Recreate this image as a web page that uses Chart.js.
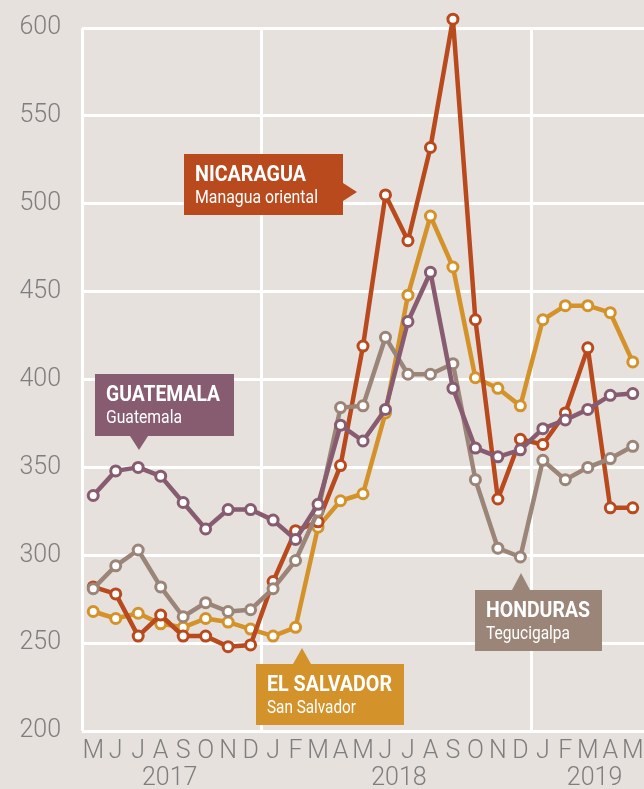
<!DOCTYPE html>
<html>
<head>
<meta charset="utf-8">
<script src="https://cdn.jsdelivr.net/npm/chart.js@4.4.1/dist/chart.umd.min.js"></script>
<style>
  html, body { margin: 0; padding: 0; background: #e6e1dd; }
  #wrap { width: 644px; height: 789px; position: relative; }
</style>
</head>
<body>
<div id="wrap"><canvas id="chart"></canvas></div>
<script>
const months = ['M','J','J','A','S','O','N','D','J','F','M','A','M','J','J','A','S','O','N','D','J','F','M','A','M'];
const years = ['2017', '2018', '2019'];
const yearAt = [3.4, 13.6, 22.3];      // category position of each year label
const yearStart = [0, 8, 20];          // white vertical line before these months

const nicaragua  = [282, 278, 254, 266, 254, 254, 248, 249, 285, 314, 319, 351, 419, 505, 479, 532, 605, 434, 332, 366, 363, 381, 418, 327, 327];
const guatemala  = [334, 348, 350, 345, 330, 315, 326, 326, 320, 309, 329, 374, 365, 383, 433, 461, 395, 361, 356, 360, 372, 377, 383, 391, 392];
const elSalvador = [268, 264, 267, 261, 259, 264, 262, 258, 254, 259, 316, 331, 335, 381, 448, 493, 464, 401, 395, 385, 434, 442, 442, 438, 410];
const honduras   = [281, 294, 303, 282, 265, 273, 268, 269, 281, 297, 325, 384, 385, 424, 403, 403, 409, 343, 304, 299, 354, 343, 350, 355, 362];

const RED = '#b84a1e', PURPLE = '#875c70', GOLD = '#d4922a', TAUPE = '#9b8578';
const tickFont = { family: 'Roboto', weight: 300, size: 25 };
const tickColor = '#7e7e7e';

function series(label, data, color) {
    return {
        label: label,
        data: data,
        borderColor: color,
        borderWidth: 4.5,
        borderJoinStyle: 'round',
        pointRadius: 5,
        pointBorderWidth: 3,
        pointBackgroundColor: '#fff',
        pointBorderColor: color,
        tension: 0,
        clip: false
    };
}

// callout boxes (tw / sw = width the title / subtitle text is squeezed to)
const callouts = [
    { x: 184, y: 154, w: 159, h: 61, color: RED, title: 'NICARAGUA', tw: 111, sub: 'Managua oriental', sw: 123, arrow: 'right', ax: 357, ay: 192 },
    { x: 95, y: 374, w: 139, h: 62, color: PURPLE, title: 'GUATEMALA', tw: 114, sub: 'Guatemala', sw: 76, arrow: 'down', ax: 139, ay: 450 },
    { x: 256, y: 664, w: 148, h: 61, color: GOLD, title: 'EL SALVADOR', tw: 125, sub: 'San Salvador', sw: 89, arrow: 'up', ax: 302, ay: 648 },
    { x: 475, y: 590, w: 127, h: 61, color: TAUPE, title: 'HONDURAS', tw: 104, sub: 'Tegucigalpa', sw: 84, arrow: 'up', ax: 521, ay: 573 }
];

function squeezedText(ctx, text, x, y, width) {
    const w = ctx.measureText(text).width;
    ctx.save();
    ctx.translate(x, y);
    ctx.scale(width / w, 1);
    ctx.fillText(text, 0, 0);
    ctx.restore();
}

const calloutPlugin = {
    id: 'callouts',
    afterDatasetsDraw(chart) {
        const ctx = chart.ctx;
        // points above the 600 line are skipped by the library, draw them here
        const full = { left: 0, top: 0, right: chart.width, bottom: chart.height };
        chart.data.datasets.forEach((ds, i) => {
            chart.getDatasetMeta(i).data.forEach(pt => {
                if (pt.y < chart.chartArea.top) pt.draw(ctx, full);
            });
        });

        ctx.save();
        callouts.forEach(c => {
            ctx.fillStyle = c.color;
            ctx.fillRect(c.x, c.y, c.w, c.h);
            ctx.beginPath();
            if (c.arrow === 'right') {
                ctx.moveTo(c.x + c.w, c.ay - 9);
                ctx.lineTo(c.ax, c.ay);
                ctx.lineTo(c.x + c.w, c.ay + 9);
            } else if (c.arrow === 'down') {
                ctx.moveTo(c.ax - 9, c.y + c.h);
                ctx.lineTo(c.ax, c.ay);
                ctx.lineTo(c.ax + 9, c.y + c.h);
            } else {
                ctx.moveTo(c.ax - 9, c.y);
                ctx.lineTo(c.ax, c.ay);
                ctx.lineTo(c.ax + 9, c.y);
            }
            ctx.closePath();
            ctx.fill();
            ctx.fillStyle = '#fff';
            ctx.textAlign = 'left';
            ctx.textBaseline = 'alphabetic';
            ctx.font = 'bold 22px Roboto, sans-serif';
            squeezedText(ctx, c.title, c.x + 11, c.y + 27, c.tw);
            ctx.font = '19px Roboto, sans-serif';
            squeezedText(ctx, c.sub, c.x + 11, c.y + 49, c.sw);
        });
        ctx.restore();
    },
    afterDraw(chart) {
        const ctx = chart.ctx;
        const xs = chart.scales.x;
        ctx.save();
        ctx.fillStyle = tickColor;
        ctx.font = '300 25px Roboto';
        ctx.textAlign = 'center';
        ctx.textBaseline = 'middle';
        years.forEach((y, i) => {
            ctx.fillText(y, xs.getPixelForValue(yearAt[i]), 779);
        });
        ctx.restore();
    }
};

new Chart(document.getElementById('chart'), {
    type: 'line',
    data: {
        labels: months,
        datasets: [
            series('Guatemala', guatemala, PURPLE),
            series('Honduras', honduras, TAUPE),
            series('Nicaragua', nicaragua, RED),
            series('El Salvador', elSalvador, GOLD)
        ]
    },
    options: {
        responsive: true,
        maintainAspectRatio: false,
        animation: false,
        layout: { autoPadding: false, padding: { top: 28, right: 0, bottom: 0, left: 0 } },
        plugins: { legend: { display: false }, tooltip: { enabled: false } },
        scales: {
            x: {
                offset: true,
                grid: {
                    offset: true,
                    drawTicks: false,
                    lineWidth: 3,
                    color: ctx => yearStart.includes(ctx.index) ? '#ffffff' : 'rgba(0,0,0,0)'
                },
                border: { display: false },
                ticks: { color: tickColor, font: tickFont, padding: 6, maxRotation: 0, autoSkip: false },
                afterFit: s => { s.height = 58; s.paddingLeft = 0; s.paddingRight = 0; }
            },
            y: {
                min: 200,
                max: 600,
                grid: { color: '#ffffff', lineWidth: 3, drawTicks: false },
                border: { display: false },
                ticks: { stepSize: 50, color: tickColor, font: tickFont, padding: 21 },
                afterFit: s => { s.width = 82; s.paddingTop = 0; s.paddingBottom = 0; }
            }
        }
    },
    plugins: [calloutPlugin]
});
</script>
</body>
</html>
